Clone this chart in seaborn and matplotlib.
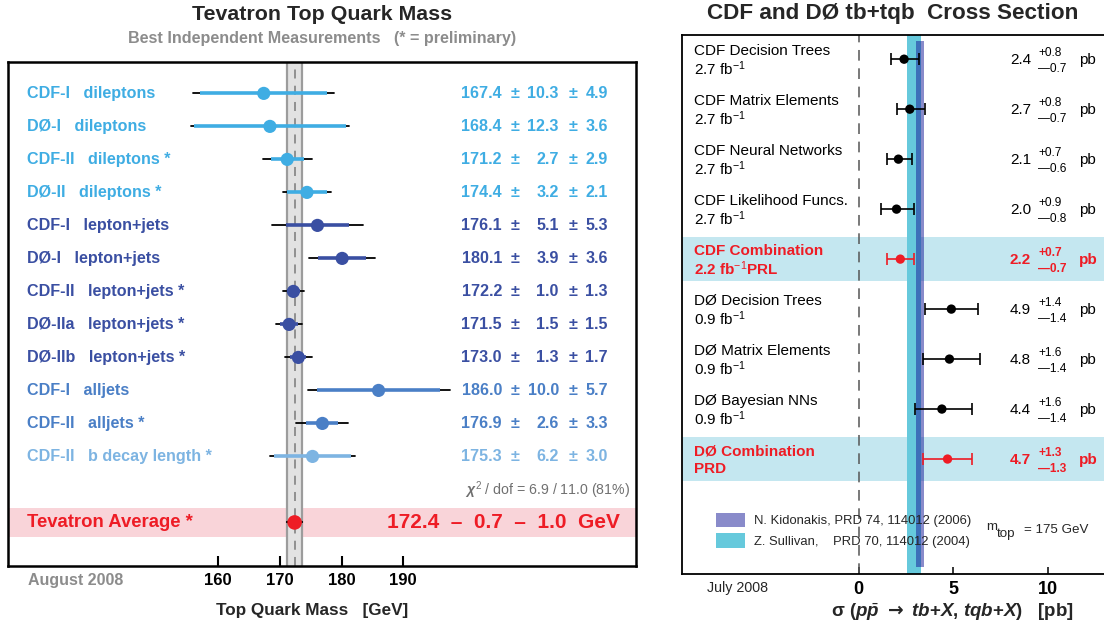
import numpy as np
import matplotlib
matplotlib.use("Agg")
import matplotlib.pyplot as plt
import seaborn as sns

# ---- datos panel izquierdo (masa del top) ----
mt_labels = ["CDF-I   dileptons", "DØ-I   dileptons", "CDF-II   dileptons *",
             "DØ-II   dileptons *", "CDF-I   lepton+jets", "DØ-I   lepton+jets",
             "CDF-II   lepton+jets *", "DØ-IIa   lepton+jets *", "DØ-IIb   lepton+jets *",
             "CDF-I   alljets", "CDF-II   alljets *", "CDF-II   b decay length *"]
mt_channel = ["dileptons"] * 4 + ["lepton+jets"] * 5 + ["alljets"] * 2 + ["bdecay"]
mt_value = [167.4, 168.4, 171.2, 174.4, 176.1, 180.1, 172.2, 171.5, 173.0, 186.0, 176.9, 175.3]
mt_stat = [10.3, 12.3, 2.7, 3.2, 5.1, 3.9, 1.0, 1.5, 1.3, 10.0, 2.6, 6.2]
mt_syst = [4.9, 3.6, 2.9, 2.1, 5.3, 3.6, 1.3, 1.5, 1.7, 5.7, 3.3, 3.0]
avg_value, avg_stat, avg_syst = 172.4, 0.7, 1.0
mt_ticks = [160, 170, 180, 190]

# ---- datos panel derecho (seccion eficaz) ----
xs_labels = ["CDF Decision Trees", "CDF Matrix Elements", "CDF Neural Networks",
             "CDF Likelihood Funcs.", "CDF Combination", "DØ Decision Trees",
             "DØ Matrix Elements", "DØ Bayesian NNs", "DØ Combination"]
xs_lumi = ["2.7 fb$^{-1}$", "2.7 fb$^{-1}$", "2.7 fb$^{-1}$", "2.7 fb$^{-1}$",
           "2.2 fb$^{-1}$PRL", "0.9 fb$^{-1}$", "0.9 fb$^{-1}$", "0.9 fb$^{-1}$", "PRD"]
xs_value = [2.4, 2.7, 2.1, 2.0, 2.2, 4.9, 4.8, 4.4, 4.7]
xs_up = [0.8, 0.8, 0.7, 0.9, 0.7, 1.4, 1.6, 1.6, 1.3]
xs_dn = [0.7, 0.7, 0.6, 0.8, 0.7, 1.4, 1.4, 1.4, 1.3]
xs_combo = [False, False, False, False, True, False, False, False, True]
sullivan_band = (2.54, 3.30)
kidonakis_band = (3.02, 3.47)
xs_ticks = [0, 5, 10]

# ---- estilo ----
sns.set_theme(style="white")
plt.rcParams["font.family"] = ["Liberation Sans", "DejaVu Sans"]
plt.rcParams["mathtext.fontset"] = "custom"
plt.rcParams["mathtext.rm"] = "Liberation Sans"
plt.rcParams["mathtext.it"] = "Liberation Sans:italic:bold"
plt.rcParams["mathtext.bf"] = "Liberation Sans:bold"
plt.rcParams["mathtext.sf"] = "DejaVu Sans:bold"

channel_colors = {"dileptons": "#3FADE3", "lepton+jets": "#3A4FA2",
                  "alljets": "#4A7FC6", "bdecay": "#7DB4E2"}
red = "#EE1C25"
W, H = 1104, 628


def fx(px):
    return px / W


def fy(py):
    return 1 - py / H


fig = plt.figure(figsize=(11.04, 6.28), dpi=100)

# ================= panel izquierdo =================
ax1 = fig.add_axes([fx(8), fy(566), fx(636) - fx(8), fy(61.7) - fy(566)])
ax1.set_xlim(125.97, 227.7)
ax1.set_ylim(14.32, -0.96)
rows = np.arange(len(mt_value))
avg_row = 13
avg_tot = np.hypot(avg_stat, avg_syst)

ax1.axhspan(avg_row - 0.44, avg_row + 0.44, color="#F9D4D9", lw=0, zorder=0)
ax1.axvspan(avg_value - avg_tot, avg_value + avg_tot, color="#E2E2E2", lw=0, zorder=1)
for xv in [avg_value - avg_tot, avg_value + avg_tot]:
    ax1.axvline(xv, color="#9C9C9C", lw=1.6, zorder=1.5)
ax1.axvline(avg_value, color="#8A8A8A", lw=1.3, ls=(0, (5, 4)), zorder=1.6)

for i in rows:
    m, st = mt_value[i], mt_stat[i]
    tot = np.hypot(st, mt_syst[i])
    c = channel_colors[mt_channel[i]]
    ax1.plot([m - tot, m + tot], [i, i], color="black", lw=1.3, zorder=3)
    ax1.plot([m - st, m + st], [i, i], color=c, lw=2.6, zorder=4, solid_capstyle="butt")
ax1.plot([avg_value - avg_tot, avg_value + avg_tot], [avg_row, avg_row],
         color="black", lw=1.6, zorder=3)

pal = {lab: channel_colors[ch] for lab, ch in zip(mt_labels, mt_channel)}
sns.scatterplot(x=mt_value, y=rows, hue=mt_labels, palette=pal, s=90,
                edgecolor="none", legend=False, ax=ax1, zorder=5)
sns.scatterplot(x=[avg_value], y=[avg_row], color=red, s=110,
                edgecolor="none", legend=False, ax=ax1, zorder=5)

tr = ax1.get_yaxis_transform()
for i in rows:
    c = channel_colors[mt_channel[i]]
    kw = dict(color=c, fontsize=11.6, fontweight="bold", va="center", transform=tr)
    ax1.text(0.030, i, mt_labels[i], ha="left", **kw)
    ax1.text(0.7866, i, f"{mt_value[i]:.1f}", ha="right", **kw)
    ax1.text(0.807, i, "±", ha="center", **kw)
    ax1.text(0.877, i, f"{mt_stat[i]:.1f}", ha="right", **kw)
    ax1.text(0.900, i, "±", ha="center", **kw)
    ax1.text(0.955, i, f"{mt_syst[i]:.1f}", ha="right", **kw)

ax1.text(0.99, 12.03, r"$\chi^2$ / dof = 6.9 / 11.0 (81%)", ha="right", va="center",
         color="#707070", fontsize=10.2, transform=tr)
ax1.text(0.030, avg_row, "Tevatron Average *", ha="left", va="center", color=red,
         fontsize=13.3, fontweight="bold", transform=tr)
ax1.text(0.9745, avg_row,
         f"{avg_value:.1f}  –  {avg_stat:.1f}  –  {avg_syst:.1f}  GeV",
         ha="right", va="center", color=red, fontsize=15, fontweight="bold", transform=tr)

ax1.set_yticks([])
ax1.set_xticks(mt_ticks)
ax1.set_xticklabels([str(t) for t in mt_ticks], fontweight="bold", fontsize=12)
ax1.tick_params(axis="x", direction="in", length=7, width=1.5, pad=5,
                bottom=True, colors="black")
for sp in ax1.spines.values():
    sp.set_color("black")
    sp.set_linewidth(1.8)

fig.text(fx(322), fy(14), "Tevatron Top Quark Mass", ha="center", va="center",
         fontsize=15.4, fontweight="bold")
fig.text(fx(322), fy(38), "Best Independent Measurements   (* = preliminary)",
         ha="center", va="center", fontsize=11.6, fontweight="bold", color="#8C8C8C")
fig.text(fx(28), fy(580), "August 2008", ha="left", va="center", fontsize=11.5,
         fontweight="bold", color="#8C8C8C")
fig.text(fx(312), fy(610), "Top Quark Mass   [GeV]", ha="center", va="center",
         fontsize=12.3, fontweight="bold")

# ================= panel derecho =================
ax2 = fig.add_axes([fx(681.7), fy(574), fx(1104) - fx(681.7), fy(34.7) - fy(574)])
ax2.set_xlim(-9.37, 12.98)
ax2.set_ylim(10.3, -0.49)
xrows = np.arange(len(xs_value))

for i in xrows:
    if xs_combo[i]:
        ax2.axhspan(i - 0.44, i + 0.44, color="#C4E7F0", lw=0, zorder=0)
ax2.axvline(0, color="#555555", lw=1.1, ls=(0, (7, 5)), zorder=1)
ax2.axvspan(*sullivan_band, color="#66C9DC", lw=0, zorder=2)
ax2.fill_betweenx([-0.36, 10.16], *kidonakis_band, color="#151997", alpha=0.5,
                  lw=0, zorder=2.5)

for i in xrows:
    c = red if xs_combo[i] else "black"
    ax2.errorbar(xs_value[i], i, xerr=[[xs_dn[i]], [xs_up[i]]], fmt="none",
                 ecolor=c, elinewidth=1.2, capsize=4, capthick=1.2, zorder=4)
xs_pal = {lab: (red if cb else "black") for lab, cb in zip(xs_labels, xs_combo)}
sns.scatterplot(x=xs_value, y=xrows, hue=xs_labels, palette=xs_pal, s=45,
                edgecolor="none", legend=False, ax=ax2, zorder=5)

for i in xrows:
    c = red if xs_combo[i] else "black"
    fw = "bold" if xs_combo[i] else "normal"
    ax2.text(-8.70, i - 0.16, xs_labels[i], ha="left", va="center", fontsize=11,
             color=c, fontweight=fw, zorder=6)
    ax2.text(-8.70, i + 0.20, xs_lumi[i], ha="left", va="center", fontsize=11,
             color=c, fontweight=fw, zorder=6)
    ax2.text(9.12, i + 0.02, f"{xs_value[i]:.1f}", ha="right", va="center",
             fontsize=11, color=c, fontweight=fw, zorder=6)
    ax2.text(9.49, i - 0.13, f"+{xs_up[i]:.1f}", ha="left", va="center",
             fontsize=8.6, color=c, fontweight=fw, zorder=6)
    ax2.text(9.49, i + 0.20, f"—{xs_dn[i]:.1f}", ha="left", va="center",
             fontsize=8.6, color=c, fontweight=fw, zorder=6)
    ax2.text(11.66, i + 0.02, "pb", ha="left", va="center", fontsize=11,
             color=c, fontweight=fw, zorder=6)

# leyenda de las predicciones teoricas
ax2.fill_between([-7.55, -6.02], 9.08, 9.36, color="#151997", alpha=0.5, lw=0, zorder=3)
ax2.fill_between([-7.55, -6.02], 9.48, 9.78, color="#66C9DC", lw=0, zorder=3)
ax2.text(-5.54, 9.24, "N. Kidonakis, PRD 74, 114012 (2006)", ha="left", va="center",
         fontsize=9.4, zorder=6)
ax2.text(-5.54, 9.66, "Z. Sullivan,    PRD 70, 114012 (2004)", ha="left", va="center",
         fontsize=9.4, zorder=6)
ax2.text(6.74, 9.35, "m", ha="left", va="center", fontsize=9.6, zorder=6)
ax2.text(7.32, 9.50, "top", ha="left", va="center", fontsize=9.6, zorder=6)
ax2.text(8.75, 9.41, "= 175 GeV", ha="left", va="center", fontsize=9.6, zorder=6)

ax2.set_yticks([])
ax2.set_xticks(xs_ticks)
ax2.set_xticklabels([str(t) for t in xs_ticks], fontweight="bold", fontsize=13)
ax2.tick_params(axis="x", direction="in", length=5, width=1.1, pad=5,
                bottom=True, colors="black")
ax2.spines["right"].set_visible(False)
for sp in ["left", "top", "bottom"]:
    ax2.spines[sp].set_color("black")
    ax2.spines[sp].set_linewidth(1.3)

fig.text(fx(893), fy(14), "CDF and DØ tb+tqb  Cross Section", ha="center", va="center",
         fontsize=16.2, fontweight="bold")
fig.text(fx(707), fy(588), "July 2008", ha="left", va="center", fontsize=10.3)
fig.text(fx(953), fy(612),
         r"σ ($p\bar{p}\ \mathsf{\rightarrow}\ tb$+$X$, $tqb$+$X$)   [pb]",
         ha="center", va="center", fontsize=13.5, fontweight="bold")

fig.savefig("out.png", dpi=100)
plt.close(fig)
print("Figura guardada como out.png")
